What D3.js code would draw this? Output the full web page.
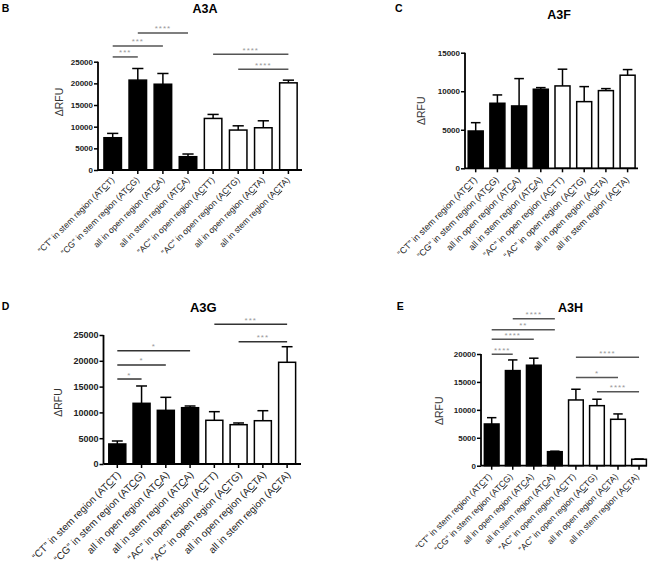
<!DOCTYPE html>
<html><head><meta charset="utf-8">
<script src="https://cdn.jsdelivr.net/npm/d3@7"></script>
<style>
body{margin:0;background:#fff}
svg{display:block;font-family:"Liberation Sans",Arial,sans-serif}
</style>
</head><body>
<svg id="chart" width="650" height="568"></svg>
<script>
// ---------- data ----------
const labelPre  = ['“CT” in stem region (AT', '“CG” in stem region (AT', 'all in open region (AT', 'all in stem region (AT',
                   '“AC” in open region (A', '“AC” in open region (A', 'all in open region (A', 'all in stem region (A'];
const labelMark = ['C','C','C','C','C','C','C','C'];
const labelPost = ['T)','G)','A)','A)','TT)','TG)','TA)','TA)'];

const a3aValues = [7450, 20750, 19800, 3070, 11900, 9220, 9750, 20120];
const a3aErrors = [1000, 2680, 2480, 620, 930, 980, 1610, 620];
const a3aTicks  = [0, 5000, 10000, 15000, 20000, 25000];
const a3aSig    = [[0,1,26100,'***'],[0,2,28640,'***'],[1,3,31640,'****'],[4,7,26730,'****'],[5,7,23270,'****']];

const a3fValues = [4840, 8440, 8090, 10260, 10690, 8650, 10080, 12080];
const a3fErrors = [1080, 1080, 3550, 210, 2170, 1950, 260, 730];
const a3fTicks  = [0, 5000, 10000, 15000];
const a3fSig    = [];

const a3gValues = [3880, 11760, 10400, 10910, 8470, 7620, 8390, 19710];
const a3gErrors = [580, 3360, 2520, 330, 1670, 330, 1940, 3020];
const a3gTicks  = [0, 5000, 10000, 15000, 20000, 25000];
const a3gSig    = [[0,1,16470,'*'],[0,2,19190,'*'],[0,3,21960,'*'],[4,7,27070,'***'],[5,7,23700,'***']];

const a3hValues = [7470, 17030, 17990, 2510, 11770, 10750, 8310, 1150];
const a3hErrors = [1130, 1910, 1260, 90, 1920, 1150, 960, 50];
const a3hTicks  = [0, 5000, 10000, 15000, 20000];
const a3hSig    = [[0,1,19960,'****'],[0,2,22650,'****'],[0,3,24320,'**'],[1,3,26290,'****'],
                   [4,7,19430,'****'],[4,6,15770,'*'],[5,7,13260,'****']];

// ---------- layout ----------
const panels = [
  {letter:'B', lx:1.7, ly:11.7, title:'A3A', tx:205, ty:12.7, tfs:12.5, ax:98, ar:302, c0:112.7, step:25.1, bw:17.5, y0:170, yTop:61.7, yMax:25000, ylx:63, yly:102,
   xfs:8.6, xdx:2, xdy:10.5, yfs:8, values:a3aValues, errors:a3aErrors, ticks:a3aTicks, sig:a3aSig, sigColor:'#555'},
  {letter:'C', lx:395, ly:11.7, title:'A3F', tx:559, ty:19.3, tfs:12.5, ax:465, ar:638, c0:475.7, step:21.7, bw:15, y0:168.3, yTop:52.7, yMax:15000, ylx:425, yly:110.7,
   xfs:9, xdx:2, xdy:12, yfs:8, values:a3fValues, errors:a3fErrors, ticks:a3fTicks, sig:a3fSig, sigColor:'#555'},
  {letter:'D', lx:1.7, ly:310, title:'A3G', tx:203.3, ty:311.7, tfs:13, ax:103.5, ar:301, c0:117.3, step:24.26, bw:17, y0:464, yTop:335, yMax:25000, ylx:62, yly:402.5,
   xfs:10, xdx:4, xdy:11.5, yfs:9, values:a3gValues, errors:a3gErrors, ticks:a3gTicks, sig:a3gSig, sigColor:'#333'},
  {letter:'E', lx:396.7, ly:310, title:'A3H', tx:570.5, ty:311.7, tfs:12.5, ax:481, ar:647, c0:491.7, step:21.05, bw:14.7, y0:465.7, yTop:354, yMax:20000, ylx:443, yly:410.7,
   xfs:8.6, xdx:0.5, xdy:11.5, yfs:8, values:a3hValues, errors:a3hErrors, ticks:a3hTicks, sig:a3hSig, sigColor:'#555'}
];

const svg = d3.select('#chart');

panels.forEach(p => {
  const g = svg.append('g');
  const idx = d3.range(p.values.length);
  const pad = 1 - p.bw / p.step;
  const x = d3.scaleBand().domain(idx)
    .range([p.c0 - p.step/2, p.c0 + (idx.length - 0.5) * p.step])
    .paddingInner(pad).paddingOuter(pad/2);
  const y = d3.scaleLinear().domain([0, p.yMax]).range([p.y0, p.yTop]);
  const cx = i => x(i) + x.bandwidth()/2;

  // panel letter and title
  g.append('text').attr('x', p.lx).attr('y', p.ly).attr('font-size', 10.5).attr('font-weight', 'bold').text(p.letter);
  g.append('text').attr('x', p.tx).attr('y', p.ty).attr('text-anchor', 'middle').attr('font-size', p.tfs).attr('font-weight', 'bold').text(p.title);

  // y label
  g.append('text').attr('transform', `translate(${p.ylx},${p.yly}) rotate(-90)`)
    .attr('text-anchor', 'middle').attr('font-size', 10.5).attr('fill', '#333').text('ΔRFU');

  // error bars
  const eb = g.append('g').attr('stroke', '#000').attr('stroke-width', 1.5);
  idx.forEach(i => {
    const top = y(p.values[i] + p.errors[i]);
    eb.append('line').attr('x1', cx(i)).attr('x2', cx(i)).attr('y1', y(p.values[i])).attr('y2', top);
    eb.append('line').attr('x1', cx(i) - p.bw*0.32).attr('x2', cx(i) + p.bw*0.32).attr('y1', top).attr('y2', top);
  });

  // bars
  g.append('g').selectAll('rect').data(idx).join('rect')
    .attr('x', i => x(i)).attr('width', x.bandwidth())
    .attr('y', i => y(p.values[i])).attr('height', i => p.y0 - y(p.values[i]))
    .attr('fill', i => i < 4 ? '#000' : '#fff')
    .attr('stroke', '#000').attr('stroke-width', 1.5);

  // y axis
  const ya = g.append('g').attr('transform', `translate(${p.ax},0)`)
    .call(d3.axisLeft(y).tickValues(p.ticks).tickSize(4).tickSizeOuter(0).tickPadding(1).tickFormat(d3.format('d')));
  ya.select('.domain').attr('stroke-width', 1.8).attr('d', `M0,${p.y0}V${p.yTop}`);
  ya.selectAll('.tick line').attr('stroke-width', 1.5);
  ya.selectAll('.tick text').attr('font-size', p.yfs).attr('font-weight', 'bold')
    .attr('font-family', '"Liberation Sans",Arial,sans-serif').attr('fill', '#222');

  // x axis
  g.append('line').attr('x1', p.ax).attr('x2', p.ar).attr('y1', p.y0).attr('y2', p.y0)
    .attr('stroke', '#000').attr('stroke-width', 1.8);
  const xa = g.append('g').attr('transform', `translate(0,${p.y0})`)
    .call(d3.axisBottom(x).tickSize(4).tickFormat(''));
  xa.select('.domain').remove();
  xa.selectAll('.tick line').attr('stroke-width', 1.5);

  // x labels
  idx.forEach(i => {
    const t = g.append('text')
      .attr('transform', `translate(${cx(i) + p.xdx},${p.y0 + p.xdy}) rotate(-45)`)
      .attr('text-anchor', 'end').attr('font-size', p.xfs).attr('fill', '#222');
    t.append('tspan').text(labelPre[i]);
    t.append('tspan').style('text-decoration', 'underline').text(labelMark[i]);
    t.append('tspan').text(labelPost[i]);
  });

  // significance brackets
  p.sig.forEach(([a, b, lev, stars]) => {
    const yy = y(lev);
    g.append('line').attr('x1', cx(a)).attr('x2', cx(b)).attr('y1', yy).attr('y2', yy)
      .attr('stroke', p.sigColor).attr('stroke-width', 1.5);
    g.append('text').attr('x', (cx(a) + cx(b))/2).attr('y', yy - 1.5)
      .attr('text-anchor', 'middle').attr('font-size', 8).attr('letter-spacing', 1)
      .attr('fill', '#999').text(stars);
  });
});
</script>
</body></html>
